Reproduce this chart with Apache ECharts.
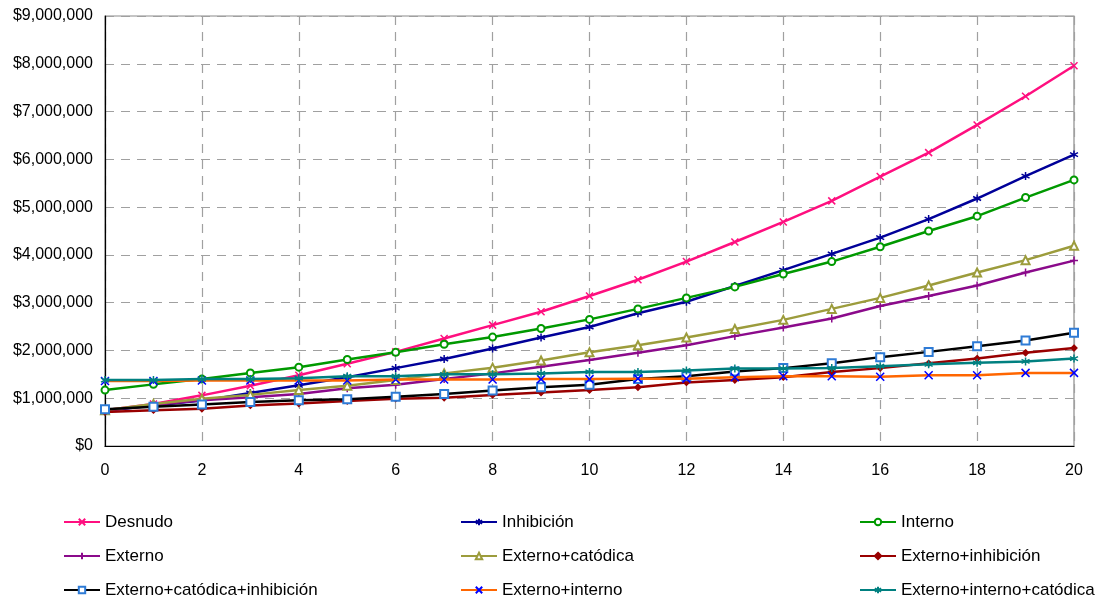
<!DOCTYPE html>
<html>
<head>
<meta charset="utf-8">
<script src="https://cdn.jsdelivr.net/npm/echarts@6/dist/echarts.min.js"></script>
<style>
html,body{margin:0;padding:0;background:#fff;}
#c{width:1109px;height:601px;}
</style>
</head>
<body>
<div id="c"></div>
<script>
const years = [0,1,2,3,4,5,6,7,8,9,10,11,12,13,14,15,16,17,18,19,20];
const seriesNames = ["Desnudo","Inhibición","Interno","Externo","Externo+catódica","Externo+inhibición","Externo+catódica+inhibición","Externo+interno","Externo+interno+catódica"];
const desnudo = [750000,880000,1060000,1260000,1480000,1720000,1970000,2250000,2530000,2810000,3140000,3480000,3860000,4270000,4690000,5130000,5640000,6140000,6720000,7320000,7960000];
const inhibicion = [740000,850000,950000,1110000,1270000,1440000,1630000,1820000,2040000,2270000,2490000,2780000,3020000,3350000,3680000,4020000,4360000,4750000,5180000,5650000,6100000];
const interno = [1170000,1290000,1400000,1530000,1650000,1810000,1960000,2130000,2280000,2460000,2650000,2870000,3100000,3330000,3600000,3860000,4170000,4500000,4810000,5200000,5570000];
const externo = [740000,860000,960000,1020000,1090000,1210000,1280000,1400000,1520000,1660000,1800000,1950000,2110000,2300000,2480000,2670000,2930000,3140000,3360000,3630000,3880000];
const externoCatodica = [750000,880000,990000,1070000,1170000,1260000,1380000,1520000,1640000,1790000,1960000,2110000,2270000,2450000,2640000,2870000,3100000,3360000,3630000,3890000,4190000];
const externoInhibicion = [710000,750000,780000,850000,890000,940000,990000,1010000,1070000,1120000,1170000,1230000,1330000,1380000,1440000,1550000,1630000,1730000,1830000,1950000,2050000];
const externoCatInh = [770000,820000,870000,920000,960000,980000,1030000,1090000,1160000,1230000,1280000,1400000,1460000,1560000,1630000,1730000,1860000,1970000,2090000,2210000,2370000];
const externoInterno = [1360000,1360000,1370000,1370000,1370000,1370000,1390000,1390000,1390000,1400000,1400000,1410000,1410000,1440000,1460000,1460000,1450000,1480000,1480000,1530000,1530000];
const externoIntCat = [1380000,1380000,1400000,1400000,1420000,1460000,1460000,1500000,1500000,1520000,1550000,1550000,1580000,1620000,1620000,1630000,1670000,1710000,1740000,1770000,1830000];
const xTicks = [0,2,4,6,8,10,12,14,16,18,20];
const yTicks = [0,1000000,2000000,3000000,4000000,5000000,6000000,7000000,8000000,9000000];

const allValues = [desnudo,inhibicion,interno,externo,externoCatodica,externoInhibicion,externoCatInh,externoInterno,externoIntCat];

const X = 'path://M0 0L10 10M10 0L0 10';
const AST = 'path://M5 0L5 10M0 2.5L10 7.5M0 7.5L10 2.5';
const PLUS = 'path://M5 0L5 10M0 5L10 5';

const styles = [
  {line:'#FF0F7F', mark:'#FF0F7F', symbol:X, size:7, stroke:true},
  {line:'#000099', mark:'#000099', symbol:AST, size:8, stroke:true},
  {line:'#009900', mark:'#009900', symbol:'emptyCircle', size:7},
  {line:'#8B0A8B', mark:'#8B0A8B', symbol:PLUS, size:8, stroke:true},
  {line:'#9C9C3C', mark:'#9C9C3C', symbol:'emptyTriangle', size:8},
  {line:'#990000', mark:'#990000', symbol:'diamond', size:6},
  {line:'#000000', mark:'#2E7BD6', symbol:'emptyRect', size:8},
  {line:'#FF6600', mark:'#0000FF', symbol:X, size:8, stroke:true},
  {line:'#008080', mark:'#008080', symbol:AST, size:8, stroke:true}
];

function mkSeries(i){
  const s = styles[i];
  const item = s.stroke
    ? {color:'rgba(0,0,0,0)', borderColor:s.mark, borderWidth:1.5}
    : {color:s.mark, borderColor:s.mark, borderWidth:1.3};
  if (s.symbol==='diamond') { item.color = s.mark; }
  return {
    name: seriesNames[i],
    type: 'line',
    data: years.map((y,k)=>[y, allValues[i][k]]),
    symbol: s.symbol,
    symbolSize: s.size,
    showSymbol: true,
    lineStyle: {color:s.line, width:2.5},
    itemStyle: item,
    emphasis: {disabled:true},
    animation: false,
    z: 2 + i
  };
}

const chart = echarts.init(document.getElementById('c'));
const fmt = v => '$' + Math.round(v).toString().replace(/\B(?=(\d{3})+(?!\d))/g, ',');
const legendBase = {
  orient:'vertical', top:508, height:120, itemGap:16, itemWidth:36, itemHeight:8,
  textStyle:{fontFamily:'Liberation Sans, Arial', fontSize:17, lineHeight:18, color:'#000'},
  selectedMode:false
};
option = {
  backgroundColor:'#fff',
  animation:false,
  grid:{left:105, right:35, top:16, bottom:155, show:true, borderColor:'#8c8c8c', borderWidth:1.2},
  xAxis:{
    type:'value', min:0, max:20, interval:2,
    axisLine:{lineStyle:{color:'#000', width:1.2}},
    axisTick:{show:false},
    axisLabel:{color:'#000', fontFamily:'Liberation Sans, Arial', fontSize:16, margin:17,
      formatter: v => xTicks.includes(v) ? String(v) : ''},
    splitLine:{show:true, lineStyle:{color:'#a0a0a0', type:[9,7], width:1.2}}
  },
  yAxis:{
    type:'value', min:0, max:9000000, interval:1000000,
    axisLine:{show:true, lineStyle:{color:'#000', width:1.2}},
    axisTick:{show:false},
    axisLabel:{color:'#000', fontFamily:'Liberation Sans, Arial', fontSize:16, margin:12,
      formatter: v => yTicks.includes(v) ? fmt(v) : ''},
    splitLine:{show:true, lineStyle:{color:'#a0a0a0', type:[9,7], width:1.2}}
  },
  legend:[
    Object.assign({}, legendBase, {left:58, data:[seriesNames[0],seriesNames[3],seriesNames[6]]}),
    Object.assign({}, legendBase, {left:455, data:[seriesNames[1],seriesNames[4],seriesNames[7]]}),
    Object.assign({}, legendBase, {left:854, data:[seriesNames[2],seriesNames[5],seriesNames[8]]})
  ],
  series: seriesNames.map((n,i)=>mkSeries(i))
};
chart.setOption(option);
</script>
</body>
</html>
